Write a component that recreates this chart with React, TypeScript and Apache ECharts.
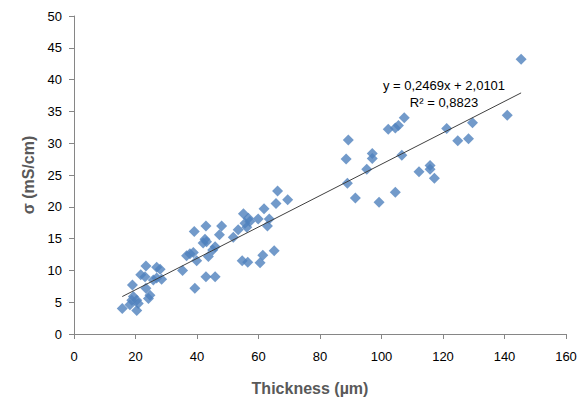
import React, { useEffect, useRef } from "react";
import * as echarts from "echarts";

const thickness: number[] = [
  15.7, 18.2, 18.8, 19.3, 20.4, 20.9, 20.4, 19.0, 24.7, 24.2,
  23.4, 21.7, 23.1, 26.9, 28.5, 25.8, 23.4, 26.9, 28.0,
  35.3, 36.6, 37.7, 38.8, 39.3, 39.1, 39.9, 42.9, 45.9,
  43.7, 45.1, 45.9, 42.0, 42.6, 43.1, 42.9, 47.3, 48.0,
  51.8, 53.4, 55.1, 56.7, 55.6, 57.2, 56.2, 59.9, 54.7, 56.5, 60.5, 61.4, 65.1,
  62.9, 63.5, 61.8, 65.7, 66.2, 69.5,
  88.5, 88.9, 89.2, 91.5, 95.2, 97.0, 97.0, 99.2, 102.2, 104.5, 105.5, 104.5,
  106.6, 107.4, 112.2, 115.8, 115.8, 117.2, 121.2, 124.8, 128.3, 129.6, 140.9, 145.4,
];
const conductivity: number[] = [
  4.0, 4.6, 5.3, 5.9, 5.3, 4.8, 3.7, 7.7, 6.1, 5.6,
  7.2, 9.3, 9.0, 8.8, 8.6, 8.5, 10.7, 10.5, 10.2,
  10.0, 12.3, 12.6, 12.8, 7.2, 16.1, 11.5, 9.0, 9.0,
  12.2, 13.2, 13.7, 14.3, 14.9, 14.5, 17.0, 15.6, 17.0,
  15.2, 16.4, 18.9, 18.2, 17.4, 17.7, 16.8, 18.1, 11.5, 11.3, 11.2, 12.4, 13.1,
  17.0, 18.1, 19.7, 20.5, 22.5, 21.1,
  27.5, 23.7, 30.5, 21.4, 25.9, 28.4, 27.6, 20.7, 32.2, 32.4, 32.8, 22.3,
  28.1, 34.0, 25.5, 26.5, 25.9, 24.5, 32.3, 30.4, 30.7, 33.2, 34.4, 43.2,
];
const trendSlope = 0.2469;
const trendIntercept = 2.0101;
const trendRange: number[] = [15.7, 145.4];
const equationText = "y = 0,2469x + 2,0101";
const r2Text = "R² = 0,8823";

export default function App() {
  const ref = useRef<HTMLDivElement>(null);
  useEffect(() => {
    if (!ref.current) return;
    const chart = echarts.init(ref.current, undefined, { renderer: "svg" });
    const points = thickness.map((t, i) => [t, conductivity[i]]);
    const trend = trendRange.map((x) => [x, trendSlope * x + trendIntercept]);
    const annoStyle = {
      fontFamily: "Liberation Sans",
      fontSize: 13,
      fill: "#000000",
      align: "center",
      verticalAlign: "middle",
    };
    chart.setOption({
      animation: false,
      backgroundColor: "#ffffff",
      grid: { left: 74, right: 17, top: 16, bottom: 67 },
      xAxis: {
        type: "value",
        min: 0,
        max: 160,
        interval: 20,
        name: "Thickness (µm)",
        nameLocation: "middle",
        nameGap: 46,
        nameTextStyle: {
          fontFamily: "Liberation Sans",
          fontSize: 16,
          fontWeight: "bold",
          color: "#595959",
          padding: [0, 20, 0, 0],
        },
        axisLine: { lineStyle: { color: "#868686", width: 1 } },
        axisTick: { show: true, length: 5, lineStyle: { color: "#868686" } },
        axisLabel: { margin: 16, fontFamily: "Liberation Sans", fontSize: 13, color: "#000000" },
        splitLine: { show: false },
      },
      yAxis: {
        type: "value",
        min: 0,
        max: 50,
        interval: 5,
        name: "σ (mS/cm)",
        nameLocation: "middle",
        nameGap: 37,
        nameRotate: 90,
        nameTextStyle: { fontFamily: "Liberation Sans", fontSize: 16, fontWeight: "bold", color: "#595959" },
        axisLine: { show: true, lineStyle: { color: "#868686", width: 1 } },
        axisTick: { show: true, length: 5, lineStyle: { color: "#868686" } },
        axisLabel: { margin: 12, fontFamily: "Liberation Sans", fontSize: 13, color: "#000000" },
        splitLine: { show: false },
      },
      series: [
        {
          type: "scatter",
          data: points,
          symbol: "diamond",
          symbolSize: 11,
          itemStyle: { color: "#4F81BD" },
          z: 2,
        },
        {
          type: "line",
          data: trend,
          symbol: "none",
          lineStyle: { color: "#404040", width: 1 },
          z: 3,
        },
      ],
      graphic: [
        { type: "text", x: 444, y: 85, style: { ...annoStyle, text: equationText } },
        { type: "text", x: 444, y: 102, style: { ...annoStyle, text: r2Text } },
      ],
    });
    return () => chart.dispose();
  }, []);
  return (
    <div
      ref={ref}
      style={{ position: "fixed", left: 0, top: 0, width: 583, height: 401, background: "#fff" }}
    />
  );
}
